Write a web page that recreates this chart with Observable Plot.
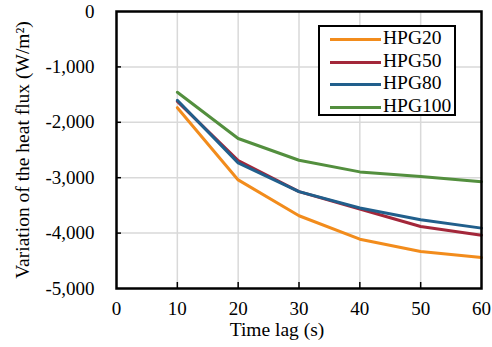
<!DOCTYPE html>
<html>
<head>
<meta charset="utf-8">
<script src="https://cdn.jsdelivr.net/npm/d3@7"></script>
<script src="https://cdn.jsdelivr.net/npm/@observablehq/plot@0.6"></script>
<style>
  html, body { margin: 0; padding: 0; background: #fff; }
  #wrap { position: relative; width: 492px; height: 347px; font-family: "Liberation Serif", "Times New Roman", serif; }
  #wrap svg, #wrap svg text { font-family: "Liberation Serif", "Times New Roman", serif !important; }
  #legend { position: absolute; left: 318px; top: 25px; width: 134px; height: 87px;
    border: 2px solid #000; background: #fff; font-family: "Liberation Serif", "Times New Roman", serif; font-size: 19.5px; }
  .row { position: absolute; left: 0; height: 22px; width: 100%; }
  .row .ln { position: absolute; left: 10px; width: 51px; height: 3px; top: 10px; }
  .row .tx { position: absolute; left: 63px; top: -1px; line-height: 22px; color: #000; }
</style>
</head>
<body>
<div id="wrap"></div>
<script>
const times = [10, 20, 30, 40, 50, 60];
const seriesNames = ["HPG20", "HPG50", "HPG80", "HPG100"];
const hpg20 = [-1736, -3040, -3687, -4110, -4333, -4442];
const hpg50 = [-1621, -2690, -3252, -3566, -3880, -4037];
const hpg80 = [-1603, -2732, -3252, -3548, -3759, -3910];
const hpg100 = [-1458, -2292, -2685, -2895, -2980, -3071];
const colors = ["#F28C1C", "#A3273A", "#215F8C", "#538F3E"];
const xTicks = [0, 10, 20, 30, 40, 50, 60];
const yTicks = [0, -1000, -2000, -3000, -4000, -5000];
const xGrid = [10, 20, 30, 40, 50];
const yGrid = [-1000, -2000, -3000, -4000];
const xLabel = "Time lag (s)";
const yLabel = "Variation of the heat flux (W/m²)";

const allSeries = [hpg20, hpg50, hpg80, hpg100];
const rows = [];
allSeries.forEach((vals, i) => vals.forEach((v, j) => rows.push({series: seriesNames[i], t: times[j], v})));

const font = '"Liberation Serif", "Times New Roman", serif';
const chart = Plot.plot({
  width: 492, height: 347,
  marginLeft: 116, marginRight: 11, marginTop: 11, marginBottom: 59,
  style: {fontFamily: font, fontSize: "19px", color: "#000", background: "#fff"},
  x: {domain: [0, 60]},
  y: {domain: [-5000, 0]},
  color: {domain: seriesNames, range: colors},
  marks: [
    Plot.ruleX(xGrid, {x: d => d, stroke: "#d9d9d9", strokeWidth: 1.5}),
    Plot.ruleY(yGrid, {y: d => d, stroke: "#d9d9d9", strokeWidth: 1.5}),
    Plot.line(rows, {x: "t", y: "v", z: "series", stroke: "series", strokeWidth: 3}),
    Plot.ruleX(xGrid, {x: d => d, stroke: "#000", strokeWidth: 1.5, insetTop: 271}),
    Plot.ruleY(yGrid, {y: d => d, stroke: "#000", strokeWidth: 1.5, insetRight: 360}),
    Plot.frame({stroke: "#000", strokeWidth: 2.5}),
    Plot.axisX(xTicks, {tickSize: 0, tickPadding: 13, tickFormat: d => String(d), fontSize: 19, label: null}),
    Plot.axisY(yTicks, {tickSize: 0, tickPadding: 22, tickFormat: d => d.toLocaleString("en-US"), fontSize: 19, label: null}),
    Plot.text([xLabel], {text: d => d, frameAnchor: "bottom", lineAnchor: "middle", textAnchor: "middle", dy: 41, dx: -22, fontSize: 19.5}),
    Plot.text([yLabel], {text: d => d, frameAnchor: "left", textAnchor: "middle", lineAnchor: "middle", dx: -94, rotate: -90, fontSize: 19.5})
  ]
});
const wrap = document.getElementById("wrap");
wrap.appendChild(chart);

const legend = document.createElement("div");
legend.id = "legend";
seriesNames.forEach((name, i) => {
  const r = document.createElement("div");
  r.className = "row";
  r.style.top = (1 + i * 22.5) + "px";
  const ln = document.createElement("div");
  ln.className = "ln";
  ln.style.background = colors[i];
  const tx = document.createElement("div");
  tx.className = "tx";
  tx.textContent = name;
  r.appendChild(ln); r.appendChild(tx);
  legend.appendChild(r);
});
wrap.appendChild(legend);
</script>
</body>
</html>
